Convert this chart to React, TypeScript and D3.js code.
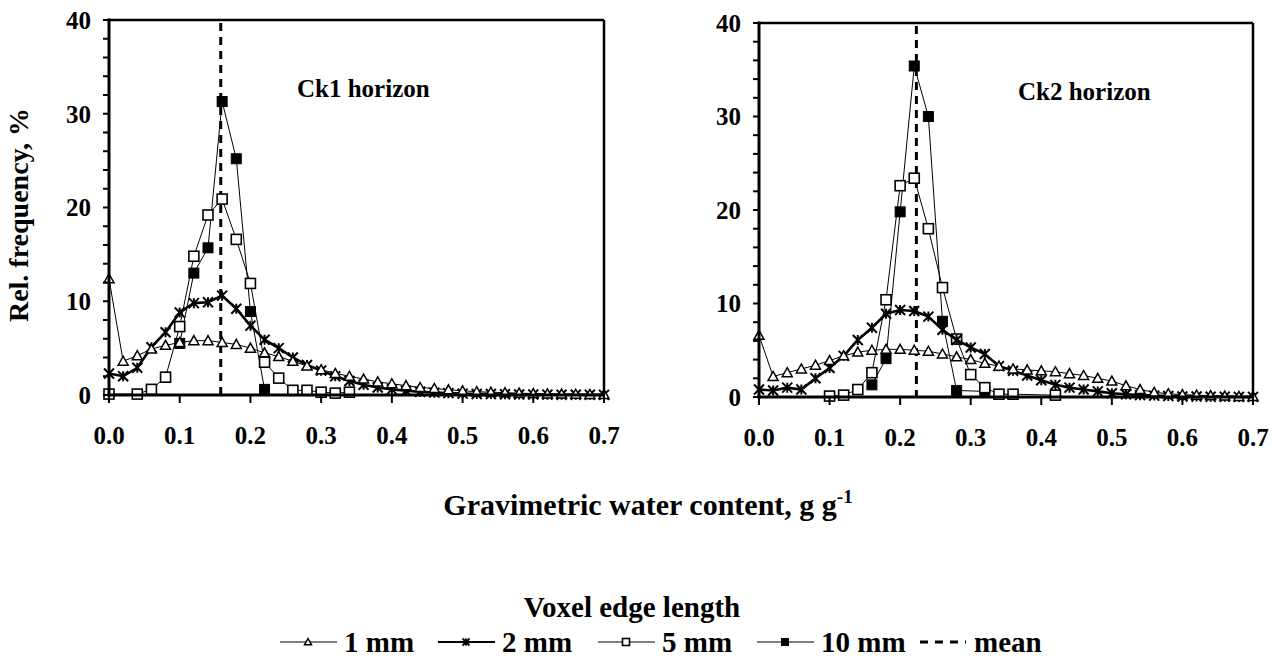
import React from "react";
import * as d3 from "d3";

const xGrid = [0, 0.02, 0.04, 0.06, 0.08, 0.1, 0.12, 0.14, 0.16, 0.18, 0.2, 0.22, 0.24, 0.26, 0.28, 0.3, 0.32, 0.34, 0.36, 0.38, 0.4, 0.42, 0.44, 0.46, 0.48, 0.5, 0.52, 0.54, 0.56, 0.58, 0.6, 0.62, 0.64, 0.66, 0.68, 0.7];

const ck1_1mm = [12.4, 3.6, 4.2, 4.9, 5.3, 5.6, 5.8, 5.8, 5.6, 5.4, 5.0, 4.5, 4.1, 3.6, 3.1, 2.7, 2.3, 2.0, 1.7, 1.4, 1.2, 1.0, 0.8, 0.7, 0.55, 0.45, 0.35, 0.3, 0.25, 0.2, 0.15, 0.12, 0.1, 0.08, 0.06, 0.05];
const ck1_2mm = [2.3, 2.0, 2.9, 5.1, 6.7, 8.8, 9.8, 9.9, 10.6, 9.2, 7.4, 5.9, 5.0, 4.0, 3.2, 2.6, 2.0, 1.5, 1.1, 0.8, 0.6, 0.45, 0.35, 0.25, 0.2, 0.15, 0.1, 0.1, 0.08, 0.05, 0.05, 0.04, 0.03, 0.02, 0.02, 0.01];
const ck1_5mm = [0.1, null, 0.1, 0.6, 1.9, 7.3, 14.8, 19.2, 20.9, 16.6, 11.9, 3.5, 1.8, 0.5, 0.5, 0.3, 0.2, 0.3, null, null, null, null, null, null, null, null, null, null, null, null, null, null, null, null, null, null];
const ck1_10mm = [null, null, null, null, null, 5.5, 13.0, 15.7, 31.3, 25.2, 8.9, 0.6, null, null, null, null, null, null, null, null, null, null, null, null, null, null, null, null, null, null, null, null, null, null, null, null];
const ck1_mean = 0.158;

const ck2_1mm = [6.6, 2.2, 2.6, 3.0, 3.4, 3.9, 4.4, 4.8, 5.0, 5.1, 5.1, 5.0, 4.9, 4.6, 4.3, 4.0, 3.6, 3.3, 3.0, 2.9, 2.8, 2.7, 2.5, 2.3, 2.0, 1.7, 1.2, 0.8, 0.5, 0.35, 0.25, 0.2, 0.15, 0.1, 0.06, 0.05];
const ck2_2mm = [0.8, 0.7, 1.0, 0.8, 2.0, 3.1, 4.4, 6.1, 7.4, 8.9, 9.3, 9.2, 8.6, 7.2, 6.1, 5.3, 4.6, 3.3, 2.8, 2.3, 1.8, 1.3, 1.0, 0.8, 0.6, 0.4, 0.3, 0.2, 0.15, 0.1, 0.05, 0.05, 0.03, 0.02, 0.01, 0.01];
const ck2_5mm = [null, null, null, null, null, 0.1, 0.2, 0.8, 2.6, 10.4, 22.6, 23.4, 18.0, 11.7, 6.2, 2.4, 1.0, 0.3, 0.3, null, null, 0.2, null, null, null, null, null, null, null, null, null, null, null, null, null, null];
const ck2_10mm = [null, null, null, null, null, null, null, null, 1.3, 4.1, 19.8, 35.4, 30.0, 8.1, 0.7, null, 0.6, null, null, null, null, null, null, null, null, null, null, null, null, null, null, null, null, null, null, null];
const ck2_mean = 0.223;

const xTicks = [0, 0.1, 0.2, 0.3, 0.4, 0.5, 0.6, 0.7];
const yTicks = [0, 10, 20, 30, 40];
const yMinor = [0, 2, 4, 6, 8, 10, 12, 14, 16, 18, 20, 22, 24, 26, 28, 30, 32, 34, 36, 38, 40];
const legendLabels = ["1 mm", "2 mm", "5 mm", "10 mm", "mean"];

const FS = { fontFamily: '"Liberation Serif", Tinos, "Times New Roman", serif' };

type Kind = "tri" | "star" | "open" | "filled";

function Marker({ kind, x, y, s = 1 }: { kind: Kind; x: number; y: number; s?: number }) {
  const r = 5 * s;
  if (kind === "tri") {
    return <path d={`M${x},${y - r}L${x + r},${y + r * 0.8}L${x - r},${y + r * 0.8}Z`} fill="white" stroke="black" strokeWidth={1.5} />;
  }
  if (kind === "star") {
    return (
      <path d={`M${x - r},${y - r}L${x + r},${y + r}M${x + r},${y - r}L${x - r},${y + r}M${x},${y - r}L${x},${y + r}`} stroke="black" strokeWidth={2} fill="none" />
    );
  }
  if (kind === "open") {
    return <rect x={x - r} y={y - r} width={2 * r} height={2 * r} fill="white" stroke="black" strokeWidth={1.6} />;
  }
  return <rect x={x - r} y={y - r} width={2 * r} height={2 * r} fill="black" stroke="black" strokeWidth={1} />;
}

const seriesStyle: { kind: Kind; width: number }[] = [
  { kind: "tri", width: 1 },
  { kind: "star", width: 2.6 },
  { kind: "open", width: 1 },
  { kind: "filled", width: 1 },
];

function Panel({ left, right, top, bottom, title, titleX, titleY, series, mean }: any) {
  const x = d3.scaleLinear().domain([0, 0.7]).range([left, right]);
  const y = d3.scaleLinear().domain([0, 40]).range([bottom, top]);
  const line = d3.line<[number, number]>().x((d) => x(d[0])).y((d) => y(d[1]));
  const pts = (vals: (number | null)[]) =>
    xGrid.map((xv, i) => [xv, vals[i]] as [number, number | null]).filter((d) => d[1] !== null) as [number, number][];
  const order = [3, 2, 1, 0];
  return (
    <g>
      <line x1={x(mean)} x2={x(mean)} y1={y(40) + 3} y2={y(0)} stroke="black" strokeWidth={3} strokeDasharray="8,6" />
      {order.map((si) => {
        const p = pts(series[si]);
        return (
          <g key={si}>
            <path d={line(p) || ""} fill="none" stroke="black" strokeWidth={seriesStyle[si].width} />
            {p.map((d, i) => (
              <Marker key={i} kind={seriesStyle[si].kind} x={x(d[0])} y={y(d[1])} />
            ))}
          </g>
        );
      })}
      <line x1={left} x2={right} y1={top} y2={top} stroke="black" strokeWidth={2.5} />
      <line x1={right} x2={right} y1={top} y2={bottom} stroke="black" strokeWidth={2.5} />
      <line x1={left} x2={left} y1={top - 1.5} y2={bottom + 1.5} stroke="black" strokeWidth={3} />
      <line x1={left - 1.5} x2={right + 1} y1={bottom} y2={bottom} stroke="black" strokeWidth={3} />
      {yMinor.map((t) => (
        <line key={t} x1={left - 6} x2={left} y1={y(t)} y2={y(t)} stroke="black" strokeWidth={2} />
      ))}
      {yTicks.map((t) => (
        <text key={t} x={left - 18} y={y(t)} dy="0.35em" textAnchor="end" style={FS} fontWeight="bold" fontSize={25}>
          {t}
        </text>
      ))}
      {xTicks.map((t) => (
        <g key={t}>
          <line x1={x(t)} x2={x(t)} y1={bottom} y2={bottom + 8} stroke="black" strokeWidth={2} />
          <text x={x(t)} y={bottom + 40} dy="0.35em" textAnchor="middle" style={FS} fontWeight="bold" fontSize={25}>
            {t.toFixed(1)}
          </text>
        </g>
      ))}
      <text x={titleX} y={titleY} style={FS} fontWeight="bold" fontSize={25}>
        {title}
      </text>
    </g>
  );
}

export default function App() {
  const legY = 642;
  const legItems = [
    { x0: 280, kind: "tri" as Kind, width: 1 },
    { x0: 438, kind: "star" as Kind, width: 2 },
    { x0: 598, kind: "open" as Kind, width: 1 },
    { x0: 757, kind: "filled" as Kind, width: 1 },
    { x0: 920, kind: null, width: 3 },
  ];
  return (
    <svg width={1272} height={659} style={{ position: "absolute", left: 0, top: 0, background: "white" }}>
      <rect width={1272} height={659} fill="white" />
      <Panel left={109} right={604} top={20} bottom={395} title="Ck1 horizon" titleX={297} titleY={97} series={[ck1_1mm, ck1_2mm, ck1_5mm, ck1_10mm]} mean={ck1_mean} />
      <Panel left={759} right={1253} top={23} bottom={397} title="Ck2 horizon" titleX={1018} titleY={100} series={[ck2_1mm, ck2_2mm, ck2_5mm, ck2_10mm]} mean={ck2_mean} />
      <text transform="translate(28,215) rotate(-90)" textAnchor="middle" style={FS} fontWeight="bold" fontSize={28}>
        Rel. frequency, %
      </text>
      <text x={648} y={515} textAnchor="middle" style={FS} fontWeight="bold" fontSize={30}>
        Gravimetric water content, g g<tspan dy={-12} fontSize={19}>-1</tspan>
      </text>
      <text x={632} y={617} textAnchor="middle" style={FS} fontWeight="bold" fontSize={29}>
        Voxel edge length
      </text>
      {legItems.map((it, i) => (
        <g key={i}>
          {it.kind ? (
            <>
              <line x1={it.x0} x2={it.x0 + 57} y1={legY} y2={legY} stroke="black" strokeWidth={it.width} />
              <Marker kind={it.kind} x={it.x0 + 28} y={legY} s={0.7} />
            </>
          ) : (
            <line x1={it.x0} x2={it.x0 + 46} y1={legY} y2={legY} stroke="black" strokeWidth={3} strokeDasharray="8,7" />
          )}
          <text x={it.x0 + (it.kind ? 64 : 54)} y={legY} dy="0.33em" style={FS} fontWeight="bold" fontSize={29}>
            {legendLabels[i]}
          </text>
        </g>
      ))}
    </svg>
  );
}
